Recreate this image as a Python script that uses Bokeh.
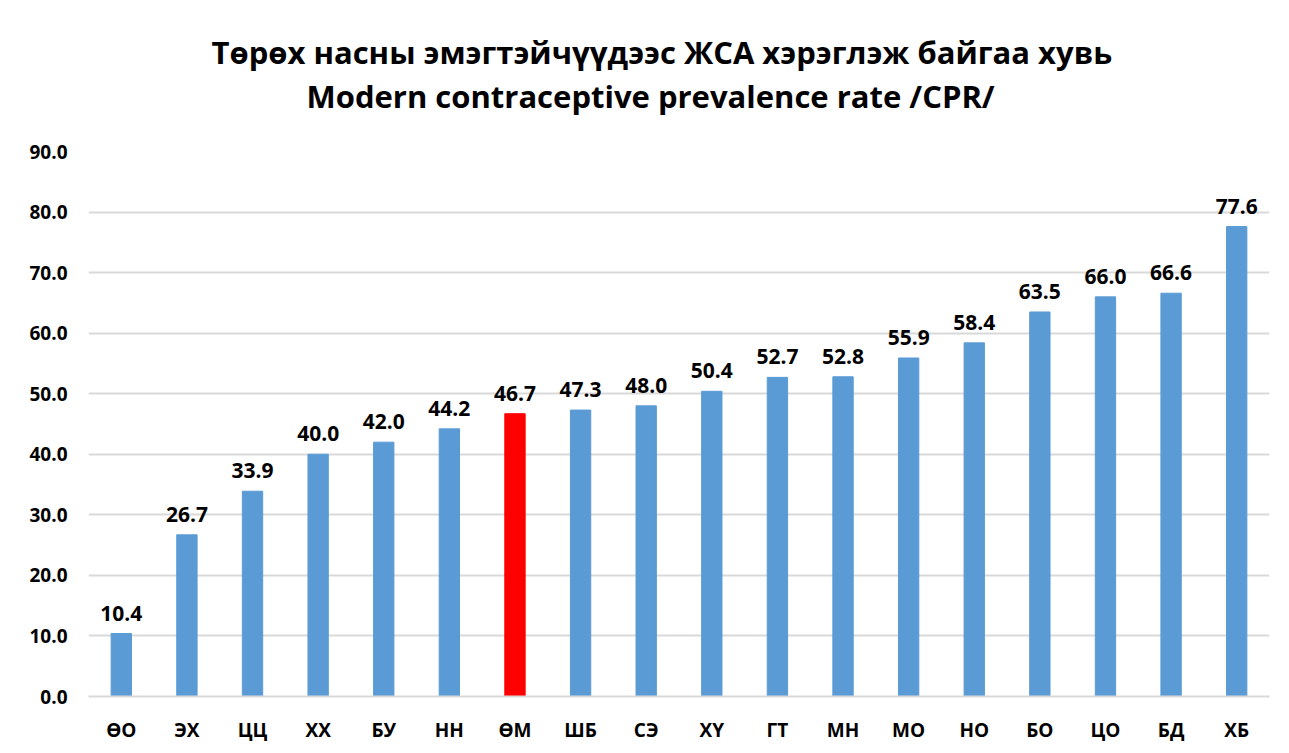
from bokeh.plotting import figure
from bokeh.models import ColumnDataSource, Title, SingleIntervalTicker, NumeralTickFormatter, Range1d, LabelSet
from bokeh.core.properties import value
from bokeh.embed import file_html
from bokeh.resources import INLINE

categories = ["ӨО", "ЭХ", "ЦЦ", "ХХ", "БУ", "НН", "ӨМ", "ШБ", "СЭ", "ХҮ",
              "ГТ", "МН", "МО", "НО", "БО", "ЦО", "БД", "ХБ"]
values = [10.4, 26.7, 33.9, 40.0, 42.0, 44.2, 46.7, 47.3, 48.0, 50.4,
          52.7, 52.8, 55.9, 58.4, 63.5, 66.0, 66.6, 77.6]
highlight = "ӨМ"
title_line1 = "Төрөх насны эмэгтэйчүүдээс ЖСА хэрэглэж байгаа хувь"
title_line2 = "Modern contraceptive prevalence rate /CPR/"

FONT = "Open Sans"
colors = ["#FF0000" if c == highlight else "#5B9BD5" for c in categories]
labels = [f"{v:.1f}" for v in values]
src = ColumnDataSource(dict(cat=categories, val=values, color=colors, lab=labels))

p = figure(x_range=categories, y_range=Range1d(0, 90), width=1279, height=745,
           output_backend="svg", toolbar_location=None,
           min_border_left=88, min_border_right=10, min_border_top=151, min_border_bottom=49)
p.outline_line_color = None
p.title = None

p.vbar(x="cat", top="val", width=0.31, color="color", source=src)

ls = LabelSet(x="cat", y="val", text="lab", source=src, text_align="center",
              text_baseline="bottom", y_offset=13, text_font=value(FONT),
              text_font_style="bold", text_font_size="21px", text_color="#000000")
p.add_layout(ls)

p.yaxis.ticker = SingleIntervalTicker(interval=10)
p.yaxis.formatter = NumeralTickFormatter(format="0.0")
p.yaxis.axis_line_color = None
p.yaxis.major_tick_line_color = None
p.yaxis.minor_tick_line_color = None
p.yaxis.major_label_text_font = FONT
p.yaxis.major_label_text_font_style = "bold"
p.yaxis.major_label_text_font_size = "19px"
p.yaxis.major_label_text_color = "#000000"
p.yaxis.major_label_standoff = 15

p.xaxis.axis_line_color = "#D9D9D9"
p.xaxis.axis_line_width = 2
p.xaxis.major_tick_line_color = None
p.xaxis.minor_tick_line_color = None
p.xaxis.major_label_text_font = FONT
p.xaxis.major_label_text_font_style = "bold"
p.xaxis.major_label_text_font_size = "19px"
p.xaxis.major_label_text_color = "#000000"
p.xaxis.major_label_standoff = 14

p.xgrid.grid_line_color = None
p.ygrid.grid_line_color = "#D9D9D9"
p.ygrid.grid_line_width = 2

t2 = Title(text=title_line2, align="left", offset=218, text_font=FONT, text_font_style="bold",
           text_font_size="31px", text_color="#000000", standoff=70)
t1 = Title(text=title_line1, align="left", offset=123, text_font=FONT, text_font_style="bold",
           text_font_size="31px", text_color="#000000", standoff=-70)
p.add_layout(t2, "above")
p.add_layout(t1, "above")

open("out.html", "w").write(file_html(p, INLINE))
